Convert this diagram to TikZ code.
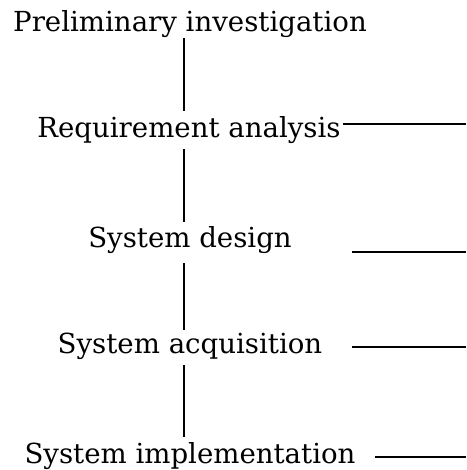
\documentclass[tikz,border=0pt]{standalone}
\usepackage{fontspec}
\setmainfont{DejaVu Serif}
\begin{document}
\begin{tikzpicture}[x=1pt,y=-1pt,
  stage/.style={anchor=base,inner sep=0pt,font=\fontsize{27.6}{32}\selectfont},
  link/.style={line width=1.3pt,line cap=butt}]
\useasboundingbox (0,0) rectangle (466,470);
\coordinate (col) at (184,0);
\coordinate (edge) at (466,0);
\node[stage] (pi) at (190,32) {Preliminary investigation};
\node[stage] (ra) at (189,138) {Requirement analysis};
\node[stage] (sd) at (190,247) {System design};
\node[stage] (sa) at (190,353) {System acquisition};
\node[stage] (si) at (190,463) {System implementation};
% vertical connectors
\draw[link] ([yshift=-6pt]pi.base -| col) -- ([yshift=27pt]ra.base -| col);
\draw[link] ([yshift=-11pt]ra.base -| col) -- ([yshift=25pt]sd.base -| col);
\draw[link] ([yshift=-16pt]sd.base -| col) -- ([yshift=23pt]sa.base -| col);
\draw[link] ([yshift=-12pt]sa.base -| col) -- ([yshift=26pt]si.base -| col);
% outgoing lines to the right
\coordinate (h1) at (343,124);
\coordinate (h2) at (352,252);
\coordinate (h3) at (352,347);
\coordinate (h4) at (375,457);
\draw[link] (h1) -- (h1 -| edge);
\draw[link] (h2) -- (h2 -| edge);
\draw[link] (h3) -- (h3 -| edge);
\draw[link] (h4) -- (h4 -| edge);
\end{tikzpicture}
\end{document}
